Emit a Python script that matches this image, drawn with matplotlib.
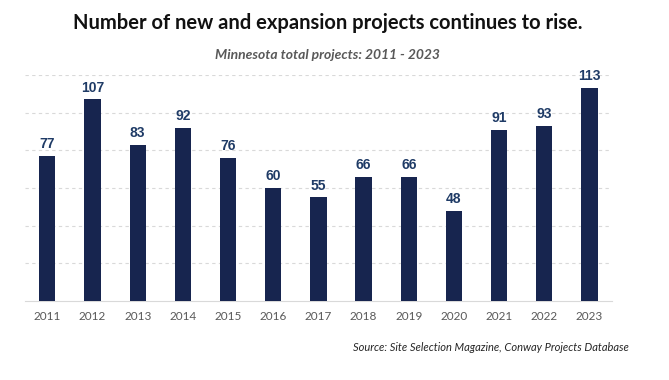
import numpy as np
import matplotlib.pyplot as plt

years = ['2011', '2012', '2013', '2014', '2015', '2016', '2017',
         '2018', '2019', '2020', '2021', '2022', '2023']
projects = [77, 107, 83, 92, 76, 60, 55, 66, 66, 48, 91, 93, 113]

plt.rcParams['font.family'] = ['Lato', 'DejaVu Sans']

fig = plt.figure(figsize=(6.69, 3.80), dpi=100)
ax = fig.add_axes([0.037, 0.208, 0.878, 0.595])

x = np.arange(len(years))
bars = ax.bar(x, projects, width=0.36, color='#17254f', zorder=3)

for xi, v in zip(x, projects):
    ax.text(xi, v + 2.5, str(v), ha='center', va='bottom', fontsize=10,
            fontweight='bold', color='#1f3b66', family=['Liberation Sans', 'DejaVu Sans'])

ax.set_xlim(-0.5, len(years) - 0.5)
ax.set_ylim(0, 120)
ax.set_yticks(np.arange(20, 121, 20))
ax.yaxis.grid(True, linestyle=(0, (3, 3)), color='#d9d9d9', linewidth=0.8, zorder=0)
ax.tick_params(axis='y', left=False, labelleft=False)
ax.tick_params(axis='x', length=0, pad=7, labelsize=8.5, labelcolor='#595959')
ax.set_xticks(x)
ax.set_xticklabels(years)
for s in ['top', 'right', 'left']:
    ax.spines[s].set_visible(False)
ax.spines['bottom'].set_color('#d9d9d9')

fig.text(0.49, 0.94, 'Number of new and expansion projects continues to rise.',
         ha='center', va='center', fontsize=14.5, fontweight='bold', color='#111111')
fig.text(0.49, 0.855, 'Minnesota total projects: 2011 - 2023', ha='center', va='center',
         fontsize=10, fontweight='bold', style='italic', color='#595959')
fig.text(0.94, 0.085, 'Source: Site Selection Magazine, Conway Projects Database',
         ha='right', va='center', fontsize=8, style='italic', color='#262626')

fig.savefig('out.png', dpi=100)
